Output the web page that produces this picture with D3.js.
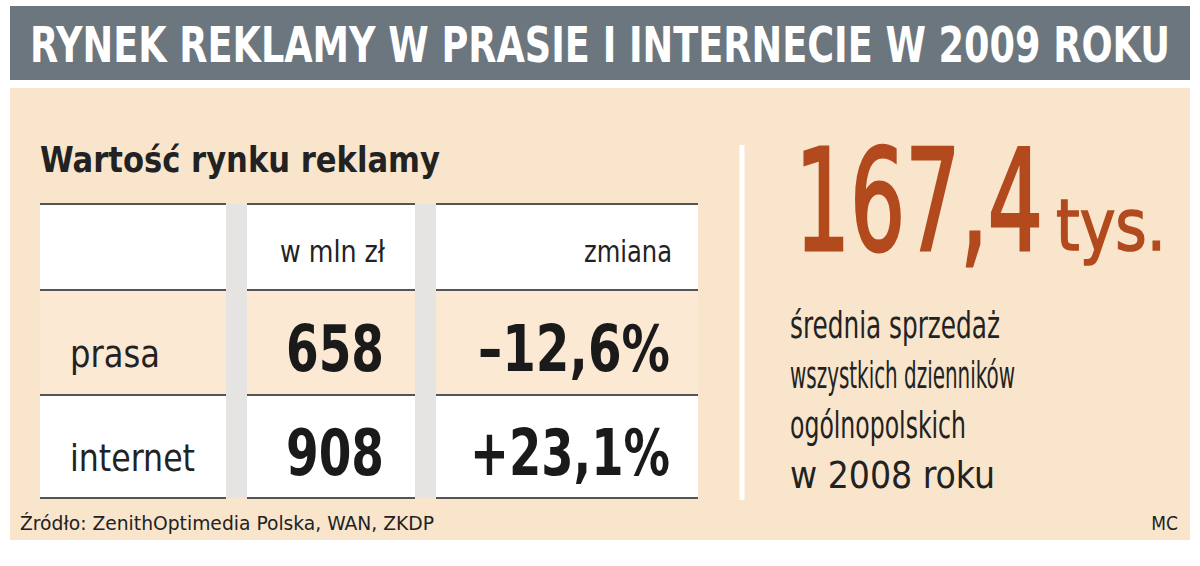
<!DOCTYPE html>
<html lang="pl">
<head>
<meta charset="UTF-8">
<script src="https://d3js.org/d3.v7.min.js"></script>
<style>
  body { margin: 0; background: #fff; }
  text { font-family: "Liberation Sans Narrow", "DejaVu Sans Condensed", sans-serif; }
</style>
</head>
<body>
<div id="chart"></div>
<script>
// data
const rows = ["prasa", "internet"];
const columns = ["", "w mln zł", "zmiana"];
const values = [658, 908];
const changes = ["–12,6%", "+23,1%"];
const bigValue = "167,4";
const noteLines = ["średnia sprzedaż", "wszystkich dzienników", "ogólnopolskich", "w 2008 roku"];
const noteWidths = [210, 225, 176, 205];

const width = 1200, height = 566;
const svg = d3.select("#chart").append("svg").attr("width", width).attr("height", height);

// fit text into a given width
function fit(sel, w) { return sel.attr("textLength", w).attr("lengthAdjust", "spacingAndGlyphs"); }

// title bar
svg.append("rect").attr("x", 10).attr("y", 6).attr("width", 1180).attr("height", 74).attr("fill", "#6c767e");
fit(svg.append("text").attr("x", 600).attr("y", 62).attr("text-anchor", "middle")
  .attr("fill", "#fff").attr("font-size", 50).attr("font-weight", "bold")
  .text("RYNEK REKLAMY W PRASIE I INTERNECIE W 2009 ROKU"), 1140);

// panel
svg.append("rect").attr("x", 10).attr("y", 88).attr("width", 1180).attr("height", 452).attr("fill", "#f8e5cc");

fit(svg.append("text").attr("x", 40).attr("y", 172).attr("font-size", 36).attr("font-weight", "bold")
  .attr("fill", "#222").text("Wartość rynku reklamy"), 400);

// table
const colX = [40, 247, 436], colW = [186, 168, 262];
const rowY = { head: 204, prasa: 290, internet: 395 };
const rowH = { head: 86, prasa: 105, internet: 103 };

svg.append("rect").attr("x", 226).attr("y", 204).attr("width", 21).attr("height", 294).attr("fill", "#e6e4e2");
svg.append("rect").attr("x", 415).attr("y", 204).attr("width", 21).attr("height", 294).attr("fill", "#e6e4e2");

["head", ...rows].forEach(r => {
  colX.forEach((x, i) => {
    svg.append("rect").attr("x", x).attr("y", rowY[r]).attr("width", colW[i]).attr("height", rowH[r])
      .attr("fill", r === "prasa" ? "#fbe9d3" : "#fff");
    svg.append("line").attr("x1", x).attr("x2", x + colW[i]).attr("y1", rowY[r]).attr("y2", rowY[r])
      .attr("stroke", "#555").attr("stroke-width", 2);
    svg.append("line").attr("x1", x).attr("x2", x + colW[i]).attr("y1", 498).attr("y2", 498)
      .attr("stroke", "#555").attr("stroke-width", 2);
  });
});

fit(svg.append("text").attr("x", 385).attr("y", 262).attr("text-anchor", "end").attr("font-size", 30).attr("fill", "#222").text(columns[1]), 105);
fit(svg.append("text").attr("x", 672).attr("y", 262).attr("text-anchor", "end").attr("font-size", 30).attr("fill", "#222").text(columns[2]), 88);

const labelW = { prasa: 90, internet: 125 };
rows.forEach((r, i) => {
  const base = rowY[r] + rowH[r] / 2 + 20;
  fit(svg.append("text").attr("x", 70).attr("y", base + 4).attr("font-size", 38).attr("fill", "#222").text(r), labelW[r]);
  fit(svg.append("text").attr("x", 384).attr("y", base + 8).attr("text-anchor", "end")
    .attr("font-size", 64).attr("font-weight", "bold").attr("fill", "#1a1a1a").text(values[i]), 98);
  fit(svg.append("text").attr("x", 670).attr("y", base + 8).attr("text-anchor", "end")
    .attr("font-size", 64).attr("font-weight", "bold").attr("fill", "#1a1a1a").text(changes[i]), i === 0 ? 192 : 200);
});

// divider
svg.append("line").attr("x1", 742).attr("x2", 742).attr("y1", 145).attr("y2", 500)
  .attr("stroke", "#fff").attr("stroke-width", 5);

// big number
fit(svg.append("text").attr("x", 795).attr("y", 250).attr("font-size", 140).attr("fill", "#b24a1e")
  .attr("stroke", "#b24a1e").attr("stroke-width", 3).text(bigValue), 248);
fit(svg.append("text").attr("x", 1056).attr("y", 250).attr("font-size", 72).attr("fill", "#b24a1e")
  .attr("stroke", "#b24a1e").attr("stroke-width", 1.5).text("tys."), 110);

noteLines.forEach((t, i) => {
  fit(svg.append("text").attr("x", 790).attr("y", 338 + i * 50).attr("font-size", 38).attr("fill", "#222").text(t), noteWidths[i]);
});

// footer
fit(svg.append("text").attr("x", 20).attr("y", 530).attr("font-size", 19).attr("fill", "#222")
  .text("Źródło: ZenithOptimedia Polska, WAN, ZKDP"), 414);
svg.append("text").attr("x", 1178).attr("y", 530).attr("text-anchor", "end").attr("font-size", 19).attr("fill", "#222").text("MC");
</script>
</body>
</html>
